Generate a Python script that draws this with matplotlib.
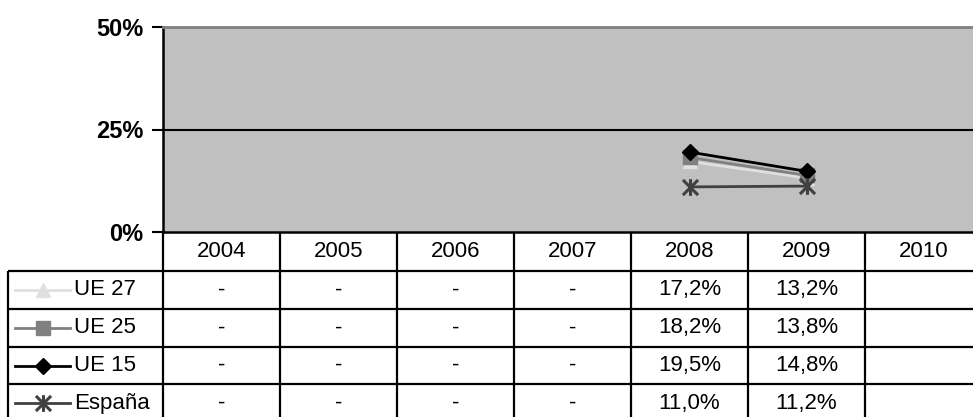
import numpy as np
import matplotlib
matplotlib.use("Agg")
import matplotlib.pyplot as plt
from matplotlib.lines import Line2D
from matplotlib.path import Path

plt.rcParams['font.family'] = ['Liberation Sans', 'DejaVu Sans']

years = ['2004', '2005', '2006', '2007', '2008', '2009', '2010']
series_names = ['UE 27', 'UE 25', 'UE 15', 'España']
ue27 = [np.nan, np.nan, np.nan, np.nan, 17.2, 13.2, np.nan]
ue25 = [np.nan, np.nan, np.nan, np.nan, 18.2, 13.8, np.nan]
ue15 = [np.nan, np.nan, np.nan, np.nan, 19.5, 14.8, np.nan]
espana = [np.nan, np.nan, np.nan, np.nan, 11.0, 11.2, np.nan]
yticks = [0, 25, 50]
ytick_labels = ['0%', '25%', '50%']

star = Path([(-1, -1), (1, 1), (-1, 1), (1, -1), (0, -1.1), (0, 1.1)],
            [Path.MOVETO, Path.LINETO, Path.MOVETO, Path.LINETO, Path.MOVETO, Path.LINETO])

series = [ue27, ue25, ue15, espana]
styles = [
    dict(color='#E0E0E0', marker='^', ms=10, mfc='#E0E0E0', mec='#E0E0E0', mew=1),
    dict(color='#808080', marker='s', ms=10, mfc='#808080', mec='#808080', mew=1),
    dict(color='#000000', marker='D', ms=8, mfc='#000000', mec='#000000', mew=1),
    dict(color='#404040', marker=star, ms=12, mfc='none', mec='#404040', mew=2.2),
]

W, H = 973, 417
fig = plt.figure(figsize=(W / 100, H / 100), dpi=100)

left, top_px, bottom_px = 163, 27, 232
colw = 117
ncol = len(years)
right = left + colw * ncol

ax = fig.add_axes([left / W, (H - bottom_px) / H, (right - left) / W, (bottom_px - top_px) / H])
ax.set_facecolor('#C0C0C0')
x = np.arange(ncol)
for vals, st in zip(series, styles):
    ax.plot(x, vals, lw=2, zorder=3, **st)
ax.set_xlim(-0.5, ncol - 0.5)
ax.set_ylim(0, 50)
ax.set_yticks(yticks)
ax.set_yticklabels(ytick_labels, fontsize=17, fontweight='bold')
ax.set_xticks([])
ax.tick_params(axis='y', length=8, width=1.5, direction='out', pad=6)
ax.axhline(25, color='black', lw=1.5, zorder=1)
for s in ['left', 'bottom']:
    ax.spines[s].set_linewidth(1.8)
    ax.spines[s].set_color('black')
ax.spines['top'].set_color('#808080')
ax.spines['top'].set_linewidth(2)
ax.spines['right'].set_visible(False)

# table overlay in pixel coords
tx = fig.add_axes([0, 0, 1, 1])
tx.set_xlim(0, W)
tx.set_ylim(H, 0)
tx.axis('off')
tx.patch.set_alpha(0)

lw = 1.6
hdr_bot = 271
row_h = 37.8
row_edges = [hdr_bot + i * row_h for i in range(len(series_names) + 1)]
leg_left = 8
bottom_tbl = row_edges[-1]

for yv in row_edges[:-1]:
    tx.plot([leg_left, right], [yv, yv], color='black', lw=lw, solid_capstyle='butt')
for k in range(ncol + 1):
    xv = left + k * colw
    tx.plot([xv, xv], [bottom_px, bottom_tbl + 5], color='black', lw=lw, solid_capstyle='butt')
tx.plot([leg_left, leg_left], [hdr_bot, bottom_tbl + 5], color='black', lw=lw, solid_capstyle='butt')

fs = 16
for k, yr in enumerate(years):
    tx.text(left + (k + 0.5) * colw, (bottom_px + hdr_bot) / 2, yr, ha='center', va='center', fontsize=fs)

for i, (name, vals, st) in enumerate(zip(series_names, series, styles)):
    yc = (row_edges[i] + row_edges[i + 1]) / 2
    valid = [j for j, v in enumerate(vals) if not np.isnan(v)]
    last = max(valid) if valid else -1
    for j, v in enumerate(vals):
        if np.isnan(v):
            s = '-' if j < last else ''
        else:
            s = f"{v:.1f}".replace('.', ',') + '%'
        tx.text(left + (j + 0.5) * colw, yc, s, ha='center', va='center', fontsize=fs)
    tx.add_line(Line2D([15, 70], [yc, yc], lw=2, color=st['color']))
    tx.add_line(Line2D([43], [yc], marker=st['marker'], ms=st['ms'], mfc=st['mfc'],
                       mec=st['mec'], mew=st['mew'], color=st['color']))
    tx.text(74, yc, name, ha='left', va='center', fontsize=fs)

fig.savefig('out.png', dpi=100)
